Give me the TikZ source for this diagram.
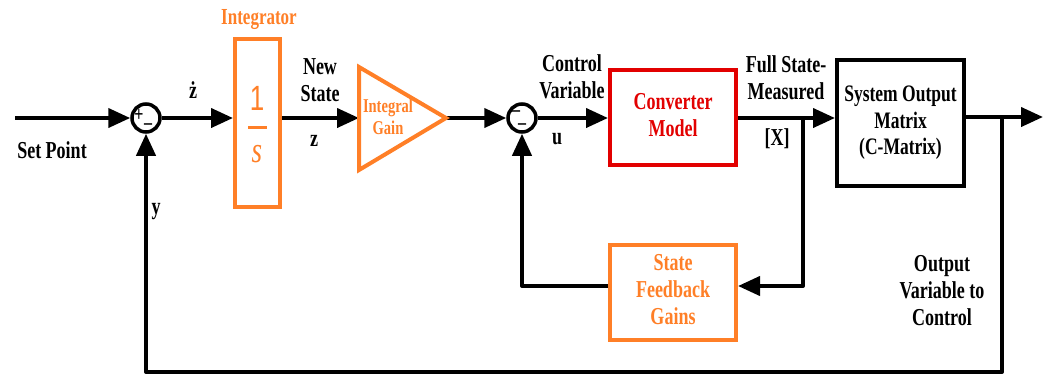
\documentclass[tikz,border=0pt]{standalone}
\usepackage{fontspec}
\usepackage{graphicx}
\setmainfont{Liberation Serif}
\newfontfamily\tnr{Liberation Serif}
\newfontfamily\sansone{Liberation Sans}
\newcommand{\tall}[1]{\scalebox{1}[1.35]{\begin{tabular}{@{}c@{}}#1\end{tabular}}}
\newcommand{\tallone}[1]{\scalebox{1}[1.35]{#1}}
\usetikzlibrary{arrows.meta}
\definecolor{orng}{RGB}{255,127,39}
\definecolor{rd}{RGB}{226,0,0}
\begin{document}
\begin{tikzpicture}[x=1pt,y=-1pt,
  wire/.style={line width=4pt,draw=black},
  arr/.style={wire,-{Triangle[length=22pt,width=19pt]}},
  lbl/.style={font=\tnr\bfseries\fontsize{18}{20}\selectfont,align=center,inner sep=0pt},
  sumnode/.style={circle,draw=black,line width=3.5pt,minimum size=28pt,inner sep=0pt},
  sgn/.style={inner sep=0pt,font=\tnr\bfseries\fontsize{16}{16}\selectfont},
  blk/.style={draw,line width=4pt,inner sep=0pt,align=center,font=\tnr\bfseries\fontsize{18}{20}\selectfont}]
\useasboundingbox (0,0) rectangle (1047,376);

% nodes
\coordinate (sp) at (15,118);
\node[sumnode] (s1) at (146,118) {};
\node[sgn] (s1p) at (139,115) {\tallone{+}};
\node[sgn] (s1m) at (148,127) {\tallone{–}};
\node[blk,draw=orng,minimum width=45pt,minimum height=168pt] (integ) at (257.5,123) {};
\node[inner sep=0pt,text=orng,font=\sansone\fontsize{26}{26}\selectfont] (one) at (257,98) {\tallone{1}};
\coordinate (barl) at (248,127);
\coordinate (barr) at (267,127);
\node[inner sep=0pt,text=orng,font=\tnr\itshape\fontsize{27}{27}\selectfont] (ess) at (257,154) {\tallone{s}};

\coordinate (gin) at (359,118);
\coordinate (gtop) at (359,67);
\coordinate (gbot) at (359,170);
\coordinate (gout) at (446,118);

\node[sumnode] (s2) at (522,118) {};
\node[sgn] (s2a) at (516,114) {\tallone{–}};
\node[sgn] (s2b) at (522,127) {\tallone{–}};

\node[blk,draw=rd,text=rd,minimum width=126pt,minimum height=95pt] (conv) at (673,117.5) {\tall{Converter\\Model}};
\node[blk,draw=black,minimum width=127pt,minimum height=126pt,font=\tnr\bfseries\fontsize{17.5}{19.5}\selectfont] (sys) at (900.5,123) {\tall{System Output\\Matrix\\(C-Matrix)}};
\node[blk,draw=orng,text=orng,minimum width=126pt,minimum height=95pt] (sfg) at (673,292.5) {\tall{State\\Feedback\\Gains}};

\coordinate (jx) at (803,118);
\coordinate (jxd) at (803,286);
\coordinate (sl) at (522,286);
\coordinate (jo) at (1002,117);
\coordinate (outend) at (1043,117);
\coordinate (jod) at (1002,372);
\coordinate (yl) at (146,372);

% connectors
\draw[arr] (sp) -- (s1);
\draw[arr] (s1) -- (s1 -| integ.west);
\draw[arr] (integ.east |- gin) -- (gin);
\draw[arr] (gout) -- (s2);
\draw[arr] (s2) -- (s2 -| conv.west);
\draw[arr] (conv.east |- jx) -- (jx -| sys.west);
\draw[arr] (sys.east |- jo) -- (outend);
\draw[arr,line join=round] (jx) -- (jxd) -- (sfg.east |- jxd);
\draw[arr,line join=round] (sfg.west |- sl) -- (sl) -- (s2);
\draw[arr,line join=round] (jo) -- (jod) -- (yl) -- (s1);

% triangle and bar
\draw[orng,line width=4pt,line join=miter] (gtop) -- (gout) -- (gbot) -- cycle;
\draw[orng,line width=3pt] (barl) -- (barr);

% labels
\node[lbl] (tsp) at (52,150) {\tallone{Set Point}};
\node[lbl] (tzd) at (193,90) {\tallone{ż}};
\node[lbl] (tns) at (320,83) {\tall{New\\State}};
\node[lbl] (tz) at (314,141) {\tallone{z}};
\node[lbl,text=orng,font=\tnr\bfseries\fontsize{17}{19}\selectfont] (tint) at (259,20) {\tallone{Integrator}};
\node[lbl] (ty) at (156,212) {\tallone{y}};
\node[lbl,text=orng,font=\tnr\bfseries\fontsize{14.5}{16}\selectfont] (tig) at (388,119) {\tall{Integral\\Gain}};
\node[lbl] (tcv) at (572,80) {\tall{Control\\Variable}};
\node[lbl] (tu) at (557,139) {\tallone{u}};
\node[lbl] (tfs) at (786,81) {\tall{Full State-\\Measured}};
\node[lbl] (tx) at (777,139) {\tallone{[X]}};
\node[lbl] (tov) at (942,293) {\tall{Output\\Variable to\\Control}};
\end{tikzpicture}
\end{document}
